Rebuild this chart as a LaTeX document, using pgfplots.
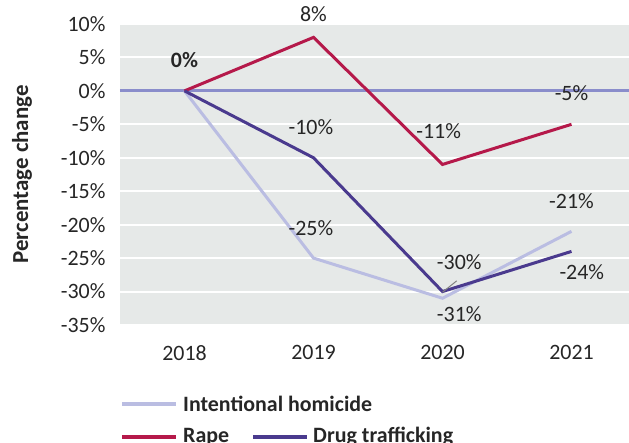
\documentclass[border=0pt]{standalone}
\usepackage{fontspec}
\setmainfont{Carlito}
\usepackage{pgfplots}
\pgfplotsset{compat=1.18}
\definecolor{bg}{HTML}{E6E9E8}
\definecolor{rape}{HTML}{B5194A}
\definecolor{drug}{HTML}{4A3A8E}
\definecolor{homi}{HTML}{BABDE2}
\definecolor{zero}{HTML}{8A8DCB}
\definecolor{txt}{HTML}{262626}
\newcommand{\fs}{\fontsize{22}{26}\selectfont}
\begin{document}
\begin{tikzpicture}[x=1bp,y=1bp]
\path[use as bounding box] (-120,-118) rectangle (509,325);
\begin{axis}[
  at={(0,0)}, anchor=south west,
  scale only axis, width=516bp, height=301bp,
  xmin=-0.5, xmax=3.5,
  ymin=-35, ymax=10,
  ytick={-35,-30,...,10},
  xtick={0,1,2,3}, xticklabels={2018,2019,2020,2021},
  axis background/.style={fill=bg},
  axis line style={draw=none},
  major tick length=0pt,
  ymajorgrids, grid style={white, line width=2bp},
  yticklabel={\pgfmathprintnumber{\tick}\%},
  /pgf/number format/assume math mode=true,
  tick label style={font=\fs, text=txt},
  yticklabel style={xshift=-11bp},
  xticklabel style={yshift=-17bp},
  ylabel={Percentage change},
  ylabel style={font=\fontsize{23}{27}\selectfont\bfseries, text=txt, at={(axis description cs:-0.19,0.5)}, anchor=center},
  clip=false,
]
\addplot[zero, line width=3bp, forget plot] coordinates {(-0.5,0) (3.5,0)};
\addplot[homi, line width=3bp] coordinates {(0,0) (1,-25) (2,-31) (3,-21)};
\addplot[rape, line width=3bp] coordinates {(0,0) (1,8) (2,-11) (3,-5)};
\addplot[drug, line width=3bp] coordinates {(0,0) (1,-10) (2,-30) (3,-24)};
\draw[gray, line width=1bp] (axis cs:2,-30.1) -- (axis cs:2.11,-28.4);
\begin{scope}[every node/.style={font=\fs, text=txt, anchor=center, inner sep=0pt}]
\node at (axis cs:0,4.6) {\textbf{0\%}};
\node at (axis cs:1,11.5) {8\%};
\node at (axis cs:0.98,-5.4) {-10\%};
\node at (axis cs:0.98,-20.5) {-25\%};
\node at (axis cs:1.97,-6) {-11\%};
\node at (axis cs:2.13,-25.6) {-30\%};
\node at (axis cs:2.13,-33.4) {-31\%};
\node at (axis cs:3,-0.3) {-5\%};
\node at (axis cs:3,-16.5) {-21\%};
\node at (axis cs:3.08,-27.1) {-24\%};
\end{scope}
\end{axis}
\begin{scope}[every node/.style={font=\fs\bfseries, text=txt, anchor=west, inner sep=0pt}]
\draw[homi, line width=3.5bp] (2,-79) -- (56,-79);
\node at (63,-79) {Intentional homicide};
\draw[rape, line width=3.5bp] (2,-112) -- (56,-112);
\node at (63,-112) {Rape};
\draw[drug, line width=3.5bp] (133,-112) -- (187,-112);
\node at (193,-112) {Drug trafficking};
\end{scope}
\end{tikzpicture}
\end{document}
